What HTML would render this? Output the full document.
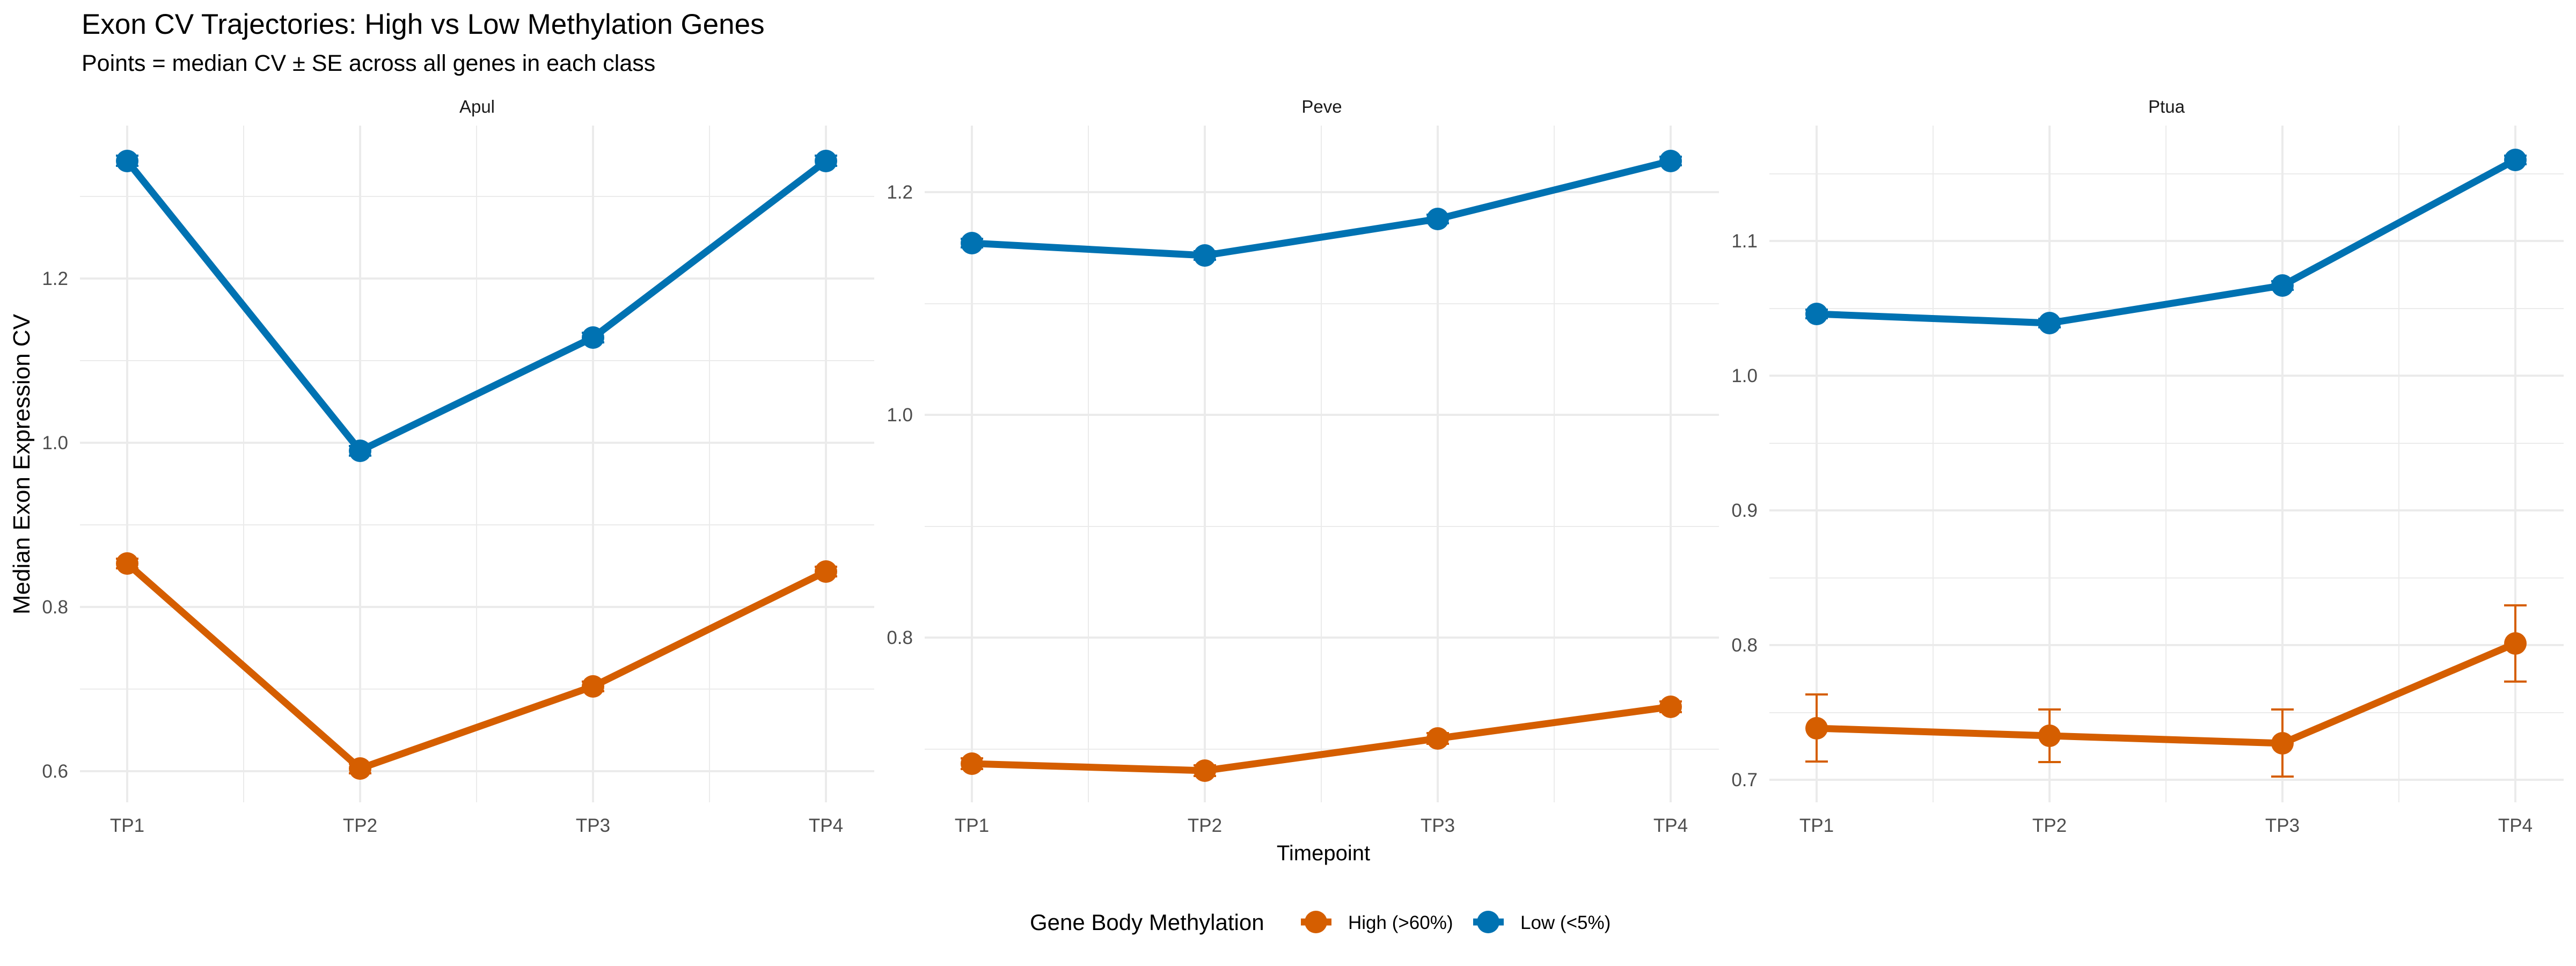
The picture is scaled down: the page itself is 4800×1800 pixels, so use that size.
<!DOCTYPE html>
<html><head><meta charset="utf-8"><style>html,body{margin:0;padding:0;background:#fff}svg{display:block}</style></head>
<body>
<svg width="4800" height="1800" viewBox="0 0 4800 1800" xmlns="http://www.w3.org/2000/svg" font-family="Liberation Sans, Arial, sans-serif">
<rect width="4800" height="1800" fill="#fff"/>
<text x="152" y="63" font-size="53" fill="#000">Exon CV Trajectories: High vs Low Methylation Genes</text>
<text x="152" y="132" font-size="43" fill="#000">Points = median CV ± SE across all genes in each class</text>

<g stroke="#ebebeb" fill="none">
<g stroke-width="2">
<line x1="149" x2="1629" y1="1284" y2="1284"/><line x1="149" x2="1629" y1="978" y2="978"/><line x1="149" x2="1629" y1="672" y2="672"/><line x1="149" x2="1629" y1="366" y2="366"/>
<line x1="454" x2="454" y1="234" y2="1495"/><line x1="888" x2="888" y1="234" y2="1495"/><line x1="1322" x2="1322" y1="234" y2="1495"/>
</g>
<g stroke-width="4">
<line x1="149" x2="1629" y1="1437" y2="1437"/><line x1="149" x2="1629" y1="1131" y2="1131"/><line x1="149" x2="1629" y1="825" y2="825"/><line x1="149" x2="1629" y1="519" y2="519"/>
<line x1="237" x2="237" y1="234" y2="1495"/><line x1="671" x2="671" y1="234" y2="1495"/><line x1="1105" x2="1105" y1="234" y2="1495"/><line x1="1539" x2="1539" y1="234" y2="1495"/>
</g>
<g stroke-width="2">
<line x1="1723" x2="3203" y1="1396" y2="1396"/><line x1="1723" x2="3203" y1="981" y2="981"/><line x1="1723" x2="3203" y1="566" y2="566"/>
<line x1="2028" x2="2028" y1="234" y2="1495"/><line x1="2462" x2="2462" y1="234" y2="1495"/><line x1="2896" x2="2896" y1="234" y2="1495"/>
</g>
<g stroke-width="4">
<line x1="1723" x2="3203" y1="1188" y2="1188"/><line x1="1723" x2="3203" y1="773" y2="773"/><line x1="1723" x2="3203" y1="358" y2="358"/>
<line x1="1811" x2="1811" y1="234" y2="1495"/><line x1="2245" x2="2245" y1="234" y2="1495"/><line x1="2679" x2="2679" y1="234" y2="1495"/><line x1="3113" x2="3113" y1="234" y2="1495"/>
</g>
<g stroke-width="2">
<line x1="3297" x2="4777" y1="1328" y2="1328"/><line x1="3297" x2="4777" y1="1077" y2="1077"/><line x1="3297" x2="4777" y1="826" y2="826"/><line x1="3297" x2="4777" y1="575" y2="575"/><line x1="3297" x2="4777" y1="324" y2="324"/>
<line x1="3602" x2="3602" y1="234" y2="1495"/><line x1="4036" x2="4036" y1="234" y2="1495"/><line x1="4470" x2="4470" y1="234" y2="1495"/>
</g>
<g stroke-width="4">
<line x1="3297" x2="4777" y1="1453" y2="1453"/><line x1="3297" x2="4777" y1="1202" y2="1202"/><line x1="3297" x2="4777" y1="951" y2="951"/><line x1="3297" x2="4777" y1="700" y2="700"/><line x1="3297" x2="4777" y1="449" y2="449"/>
<line x1="3385" x2="3385" y1="234" y2="1495"/><line x1="3819" x2="3819" y1="234" y2="1495"/><line x1="4253" x2="4253" y1="234" y2="1495"/><line x1="4687" x2="4687" y1="234" y2="1495"/>
</g>
</g>

<g font-size="33" fill="#1a1a1a" text-anchor="middle">
<text x="889" y="210">Apul</text><text x="2463" y="210">Peve</text><text x="4037" y="210">Ptua</text>
</g>

<g font-size="35" fill="#4d4d4d" text-anchor="end">
<text x="127" y="1449">0.6</text><text x="127" y="1143">0.8</text><text x="127" y="837">1.0</text><text x="127" y="531">1.2</text>
<text x="1701" y="1200">0.8</text><text x="1701" y="785">1.0</text><text x="1701" y="370">1.2</text>
<text x="3275" y="1465">0.7</text><text x="3275" y="1214">0.8</text><text x="3275" y="963">0.9</text><text x="3275" y="712">1.0</text><text x="3275" y="461">1.1</text>
</g>
<g font-size="35" fill="#4d4d4d" text-anchor="middle">
<text x="237" y="1550">TP1</text><text x="671" y="1550">TP2</text><text x="1105" y="1550">TP3</text><text x="1539" y="1550">TP4</text>
<text x="1811" y="1550">TP1</text><text x="2245" y="1550">TP2</text><text x="2679" y="1550">TP3</text><text x="3113" y="1550">TP4</text>
<text x="3385" y="1550">TP1</text><text x="3819" y="1550">TP2</text><text x="4253" y="1550">TP3</text><text x="4687" y="1550">TP4</text>
</g>

<g fill="none" stroke-width="13" stroke-linejoin="round">
<polyline stroke="#0072B2" points="237,300 671,840 1105,629 1539,300"/>
<polyline stroke="#D55E00" points="237,1050 671,1432 1105,1279 1539,1065"/>
<polyline stroke="#0072B2" points="1811,453 2245,476 2679,408 3113,300"/>
<polyline stroke="#D55E00" points="1811,1423 2245,1436 2679,1376 3113,1317"/>
<polyline stroke="#0072B2" points="3385,585 3819,602 4253,532 4687,298"/>
<polyline stroke="#D55E00" points="3385,1357 3819,1371 4253,1385 4687,1199"/>
</g>
<g stroke-width="4" fill="none">
<g stroke="#0072B2">
<path d="M216,290H258M216,309H258M237,290V309"/><path d="M650,831H692M650,849H692"/><path d="M1084,620H1126M1084,638H1126"/><path d="M1518,290H1560M1518,309H1560"/>
<path d="M1790,445H1832M1790,461H1832"/><path d="M2224,468H2266M2224,484H2266"/><path d="M2658,400H2700M2658,416H2700"/><path d="M3092,292H3134M3092,308H3134"/>
<path d="M3364,577H3406M3364,593H3406"/><path d="M3798,594H3840M3798,610H3840"/><path d="M4232,524H4274M4232,540H4274"/><path d="M4666,290H4708M4666,306H4708"/>
</g>
<g stroke="#D55E00">
<path d="M216,1041H258M216,1059H258"/><path d="M650,1423H692M650,1441H692"/><path d="M1084,1270H1126M1084,1288H1126"/><path d="M1518,1056H1560M1518,1074H1560"/>
<path d="M1790,1413H1832M1790,1433H1832"/><path d="M2224,1426H2266M2224,1446H2266"/><path d="M2658,1366H2700M2658,1386H2700"/><path d="M3092,1307H3134M3092,1327H3134"/>
<path d="M3364,1294H3406M3364,1419H3406M3385,1294V1419"/>
<path d="M3798,1322H3840M3798,1420H3840M3819,1322V1420"/>
<path d="M4232,1322H4274M4232,1447H4274M4253,1322V1447"/>
<path d="M4666,1128H4708M4666,1270H4708M4687,1128V1270"/>
</g>
</g>
<g fill="#0072B2">
<circle cx="237" cy="300" r="21"/><circle cx="671" cy="840" r="21"/><circle cx="1105" cy="629" r="21"/><circle cx="1539" cy="300" r="21"/>
<circle cx="1811" cy="453" r="21"/><circle cx="2245" cy="476" r="21"/><circle cx="2679" cy="408" r="21"/><circle cx="3113" cy="300" r="21"/>
<circle cx="3385" cy="585" r="21"/><circle cx="3819" cy="602" r="21"/><circle cx="4253" cy="532" r="21"/><circle cx="4687" cy="298" r="21"/>
</g>
<g fill="#D55E00">
<circle cx="237" cy="1050" r="21"/><circle cx="671" cy="1432" r="21"/><circle cx="1105" cy="1279" r="21"/><circle cx="1539" cy="1065" r="21"/>
<circle cx="1811" cy="1423" r="21"/><circle cx="2245" cy="1436" r="21"/><circle cx="2679" cy="1376" r="21"/><circle cx="3113" cy="1317" r="21"/>
<circle cx="3385" cy="1357" r="21"/><circle cx="3819" cy="1371" r="21"/><circle cx="4253" cy="1385" r="21"/><circle cx="4687" cy="1199" r="21"/>
</g>

<text x="2466" y="1603" font-size="40" fill="#000" text-anchor="middle">Timepoint</text>
<text transform="translate(55,865) rotate(-90)" font-size="44" fill="#000" text-anchor="middle">Median Exon Expression CV</text>

<text x="1919" y="1733" font-size="42" fill="#000">Gene Body Methylation</text>
<line x1="2424" x2="2481" y1="1718" y2="1718" stroke="#D55E00" stroke-width="13"/>
<circle cx="2452" cy="1718" r="21" fill="#D55E00"/>
<text x="2512" y="1731" font-size="35" fill="#000">High (&gt;60%)</text>
<line x1="2745" x2="2802" y1="1718" y2="1718" stroke="#0072B2" stroke-width="13"/>
<circle cx="2773" cy="1718" r="21" fill="#0072B2"/>
<text x="2833" y="1731" font-size="35" fill="#000">Low (&lt;5%)</text>
</svg>
</body></html>
